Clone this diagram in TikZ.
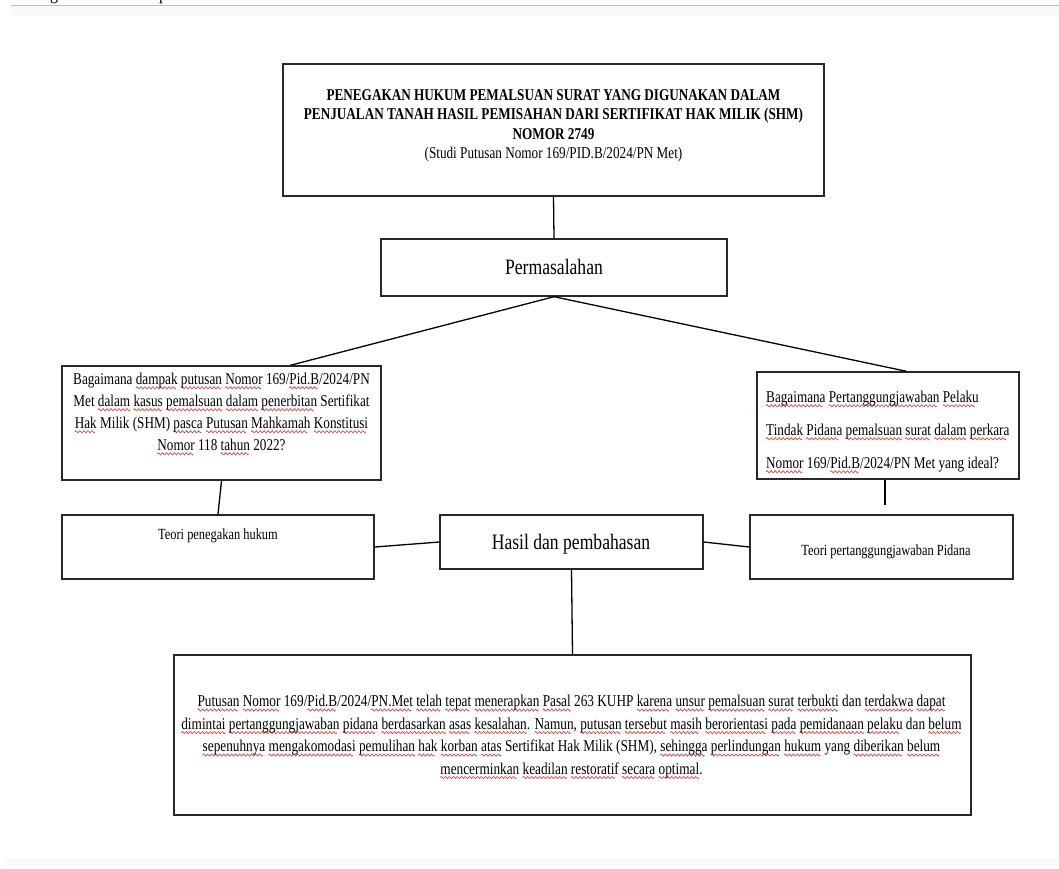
\documentclass[tikz,border=0pt]{standalone}
\usepackage{fontspec}
\setmainfont{Liberation Serif}[FakeStretch=0.8]
\usetikzlibrary{calc}
\definecolor{sqred}{RGB}{215,80,80}
\definecolor{boxline}{RGB}{40,40,40}
\definecolor{rulegray}{RGB}{190,190,190}
\newsavebox\wavebox
\newsavebox\wordbox
\newcommand\rw[1]{\sbox\wordbox{#1}\rlap{\raisebox{-4.5pt}{\hbox to \wd\wordbox{\leaders\copy\wavebox\hfil}}}\usebox\wordbox}
\begin{document}
\sbox\wavebox{\begin{pgfpicture}\pgfpathrectangle{\pgfpoint{0pt}{-1.2pt}}{\pgfpoint{4pt}{2.4pt}}\pgfusepath{use as bounding box}\pgfsetcolor{sqred}\pgfsetlinewidth{0.75pt}\pgfpathmoveto{\pgfpoint{0pt}{0pt}}\pgfpathsine{\pgfpoint{1pt}{1.1pt}}\pgfpathcosine{\pgfpoint{1pt}{-1.1pt}}\pgfpathsine{\pgfpoint{1pt}{-1.1pt}}\pgfpathcosine{\pgfpoint{1pt}{1.1pt}}\pgfusepath{stroke}\end{pgfpicture}}%
\begin{tikzpicture}[x=1pt,y=-1pt,
  box/.style={draw=boxline, line width=1.4pt, inner sep=0pt},
  conn/.style={draw=black, line width=1.3pt},
  txt/.style={inner sep=0pt, align=center},
  ttl/.style={txt, font=\fontsize{16.5}{19.5}\selectfont},
  qtxt/.style={txt, font=\fontsize{16.5}{22}\selectfont},
  big/.style={txt, font=\fontsize{22}{26}\selectfont},
  small/.style={txt, font=\fontsize{15.5}{20}\selectfont},
  restxt/.style={txt, font=\fontsize{16.6}{22.5}\selectfont}]
\useasboundingbox (0,0) rectangle (1059,868);
\fill[white] (0,0) rectangle (1059,868);
% page remnants
\fill[gray!4] (11,6) rectangle (1059,16);
\fill[gray!4] (5,858) rectangle (1059,866);
\draw[rulegray, line width=1.5pt] (11,5.5) -- (1059,5.5);
\begin{scope}
\clip (0,0) rectangle (1059,5);
\node[inner sep=0pt, anchor=base, font=\fontsize{20}{24}\selectfont] (cutg) at (54,-0.5) {g};
\node[inner sep=0pt, anchor=base, font=\fontsize{20}{24}\selectfont] (cutp) at (163,-0.5) {p};
\end{scope}

% boxes
\node[box, minimum width=541pt, minimum height=132pt] (title) at (553.5,130) {};
\node[box, minimum width=346pt, minimum height=57pt] (perm) at (554,267.5) {};
\node[box, minimum width=319pt, minimum height=114pt] (q1) at (221.5,423) {};
\node[box, minimum width=262pt, minimum height=107pt] (q2) at (888,425.5) {};
\node[box, minimum width=312pt, minimum height=64pt] (t1) at (218,547) {};
\node[box, minimum width=263pt, minimum height=54pt] (hasil) at (571.5,542) {};
\node[box, minimum width=263pt, minimum height=64pt] (t2) at (881.5,547) {};
\node[box, minimum width=797pt, minimum height=160pt] (res) at (572.5,735) {};

% texts
\node[ttl] (titletxt) at (553.5,126) {\textbf{PENEGAKAN HUKUM PEMALSUAN SURAT YANG DIGUNAKAN DALAM}\\
\textbf{PENJUALAN TANAH HASIL PEMISAHAN DARI SERTIFIKAT HAK MILIK (SHM)}\\
\textbf{NOMOR 2749}\\
(Studi Putusan Nomor 169/PID.B/2024/PN Met)};
\node[big] (permtxt) at (554,267) {Permasalahan};
\node[qtxt] (q1txt) at (221.5,414) {Bagaimana \rw{dampak} \rw{putusan} \rw{Nomor} 169/\rw{Pid.B}/2024/PN\\
Met \rw{dalam} \rw{kasus} \rw{pemalsuan} \rw{dalam} \rw{penerbitan} Sertifikat\\
\rw{Hak} Milik (SHM) \rw{pasca} \rw{Putusan} \rw{Mahkamah} \rw{Konstitusi}\\
\rw{Nomor} 118 \rw{tahun} 2022?};
\node[qtxt, align=left, anchor=west, font=\fontsize{16.5}{33}\selectfont] (q2txt) at (766,432) {\rw{Bagaimana} \rw{Pertanggungjawaban} \rw{Pelaku}\\
\rw{Tindak} \rw{Pidana} \rw{pemalsuan} \rw{surat} \rw{dalam} \rw{perkara}\\
\rw{Nomor} 169/\rw{Pid.B}/2024/PN Met yang ideal?};
\node[small] (t1txt) at (218,536) {Teori penegakan hukum};
\node[big] (hasiltxt) at (571,544) {Hasil dan pembahasan};
\node[small] (t2txt) at (886,552) {Teori pertanggungjawaban Pidana};
\node[restxt] (restxtn) at (571.5,737) {\rw{Putusan} \rw{Nomor} 169/\rw{Pid.B}/2024/\rw{PN.Met} \rw{telah} \rw{tepat} \rw{menerapkan} \rw{Pasal} 263 KUHP \rw{karena} \rw{unsur} \rw{pemalsuan} \rw{surat} \rw{terbukti} dan \rw{terdakwa} \rw{dapat}\\
\rw{dimintai} \rw{pertanggungjawaban} \rw{pidana} \rw{berdasarkan} \rw{asas} \rw{kesalahan}. \rw{Namun}, \rw{putusan} \rw{tersebut} \rw{masih} \rw{berorientasi} \rw{pada} \rw{pemidanaan} \rw{pelaku} dan \rw{belum}\\
\rw{sepenuhnya} \rw{mengakomodasi} \rw{pemulihan} \rw{hak} \rw{korban} \rw{atas} Sertifikat Hak Milik (SHM), \rw{sehingga} \rw{perlindungan} \rw{hukum} yang \rw{diberikan} \rw{belum}\\
\rw{mencerminkan} \rw{keadilan} \rw{restoratif} \rw{secara} \rw{optimal}.};

% connectors
\coordinate (q2end) at (885,505);
\draw[conn] (title.south) -- (perm.north);
\draw[conn] (perm.south) -- ($(q1.north west)!0.715!(q1.north east)$);
\draw[conn] (perm.south) -- ($(q2.north west)!0.57!(q2.north east)$);
\draw[conn] (q1.south) -- (t1.north);
\draw[conn] ($(q2.south)+(-3,0)$) -- (q2end);
\draw[conn] (t1.east) -- (hasil.west);
\draw[conn] (hasil.east) -- (t2.west);
\draw[conn] (hasil.south) -- (res.north);
\end{tikzpicture}
\end{document}
